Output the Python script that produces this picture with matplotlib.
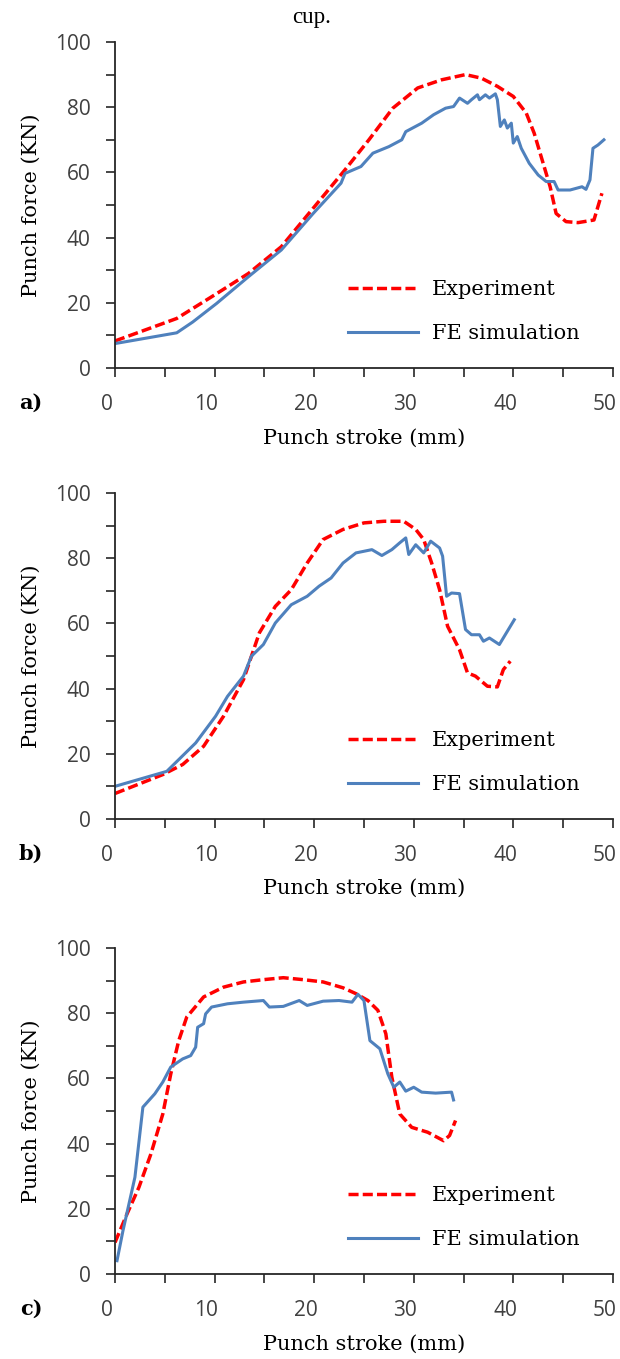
import matplotlib
matplotlib.use("Agg")
import matplotlib.pyplot as plt
from matplotlib.ticker import MultipleLocator
from matplotlib.transforms import ScaledTranslation

# ---- panel a) ----
a_exp_x = [0, 6.2, 10.2, 13.4, 16.7, 19.9, 23.1, 25.5, 27.9, 30.4, 32.8, 35.2, 36.8, 38.4,
           40.0, 41.3, 42.1, 42.9, 43.7, 44.3, 45.3, 46.5, 48.1, 48.5, 48.9]
a_exp_y = [8.3, 15.2, 22.8, 29.0, 37.2, 49.0, 60.8, 70.0, 79.7, 85.9, 88.4, 90.0, 88.9, 86.4,
           83.3, 78.2, 72.0, 63.8, 55.6, 47.4, 44.9, 44.6, 45.4, 49.5, 53.6]
a_fe_x = [0, 6.2, 7.8, 10.2, 13.4, 16.7, 19.9, 22.7, 23.1, 24.7, 25.9, 27.5, 28.8, 29.2, 30.8,
          32.0, 33.2, 34.0, 34.6, 35.4, 35.8, 36.4, 36.6, 37.2, 37.6, 38.2, 38.4, 38.7, 39.1,
          39.4, 39.8, 40.0, 40.4, 40.8, 41.6, 42.5, 43.3, 44.1, 44.5, 45.7, 46.9, 47.3, 47.7,
          48.0, 48.5, 49.1]
a_fe_y = [7.5, 10.8, 14.1, 19.8, 28.0, 36.2, 47.4, 56.7, 59.7, 61.8, 65.9, 67.9, 70.0, 72.5, 75.1,
          77.7, 79.7, 80.2, 82.8, 81.2, 82.3, 83.8, 82.3, 83.8, 82.8, 84.1, 82.3, 74.1, 76.1,
          73.6, 75.1, 69.0, 71.0, 67.4, 62.8, 59.2, 57.2, 57.2, 54.6, 54.6, 55.6, 54.8, 57.7,
          67.4, 68.4, 70.0]

# ---- panel b) ----
b_exp_x = [0, 4.8, 6.8, 8.9, 10.9, 12.9, 14.5, 16.1, 17.7, 19.3, 20.9, 22.9, 25.0, 27.0, 29.0,
           30.2, 31.0, 31.8, 32.6, 33.4, 34.6, 35.4, 36.2, 37.4, 38.4, 39.0, 39.7]
b_exp_y = [7.8, 13.6, 16.7, 22.3, 31.5, 42.7, 57.1, 65.2, 70.3, 78.5, 85.7, 88.8, 90.8, 91.3, 91.3,
           88.8, 85.7, 78.5, 70.3, 59.1, 51.9, 44.8, 43.8, 40.7, 40.5, 45.8, 48.4]
b_fe_x = [0, 5.2, 6.4, 8.1, 10.1, 11.3, 12.9, 13.7, 14.9, 16.1, 17.7, 19.3, 20.5, 21.7, 22.9,
          24.2, 25.8, 26.8, 27.8, 28.6, 29.2, 29.5, 30.2, 31.0, 31.7, 32.6, 32.9, 33.3, 33.8,
          34.6, 35.2, 35.8, 36.6, 37.0, 37.6, 38.6, 40.1]
b_fe_y = [10.0, 14.6, 18.2, 23.3, 31.5, 37.6, 43.8, 49.9, 53.5, 60.1, 65.7, 68.3, 71.4, 73.9, 78.5,
          81.6, 82.6, 80.8, 82.6, 84.7, 86.2, 81.1, 84.1, 81.6, 85.2, 83.1, 80.6, 68.3, 69.3,
          69.1, 58.1, 56.5, 56.5, 54.5, 55.5, 53.5, 61.1]

# ---- panel c) ----
c_exp_x = [0, 1.2, 2.4, 3.6, 4.8, 5.6, 6.4, 7.2, 8.9, 10.9, 12.9, 14.9, 16.9, 18.9, 20.9, 22.9,
           24.2, 25.4, 26.4, 27.2, 27.8, 28.6, 29.8, 31.4, 33.0, 33.6, 34.2]
c_exp_y = [9.7, 18.4, 26.6, 36.8, 49.1, 61.4, 71.6, 78.8, 85.0, 88.0, 89.6, 90.3, 90.9, 90.3, 89.6,
           87.8, 86.0, 83.9, 80.9, 73.7, 60.4, 49.1, 45.0, 43.5, 40.9, 42.5, 47.1]
c_fe_x = [0.2, 0.8, 2.0, 2.8, 4.0, 4.8, 5.6, 6.8, 7.6, 8.1, 8.3, 8.9, 9.1, 9.7, 11.3, 12.9, 14.9,
          15.5, 16.9, 18.5, 19.3, 20.9, 22.5, 23.8, 24.4, 25.0, 25.6, 26.6, 27.4, 28.0, 28.6,
          29.2, 30.0, 30.8, 32.2, 33.8, 34.0]
c_fe_y = [4.1, 13.3, 29.7, 51.2, 55.3, 58.9, 63.5, 66.0, 67.0, 69.6, 75.7, 76.8, 79.8, 81.9, 82.9,
          83.4, 83.9, 81.9, 82.1, 83.9, 82.4, 83.7, 83.9, 83.4, 85.8, 83.9, 71.6, 69.1, 61.4,
          57.3, 58.9, 56.1, 57.3, 55.8, 55.5, 55.8, 53.4]

panels = [("a)", a_exp_x, a_exp_y, a_fe_x, a_fe_y, 0.7292),
          ("b)", b_exp_x, b_exp_y, b_fe_x, b_fe_y, 0.3974),
          ("c)", c_exp_x, c_exp_y, c_fe_x, c_fe_y, 0.0625)]

serif = "DejaVu Serif"
tick_font = "Open Sans"
axis_col = "#262626"

fig = plt.figure(figsize=(6.2, 13.59), dpi=100)
fig.text(0.503, 1 - 18 / 1359, "cup.", family="Liberation Serif", fontsize=16.5,
         ha="center", va="center")

# Excel put the x tick labels a little left of their ticks
shift = ScaledTranslation(-6 / 72, 0, fig.dpi_scale_trans)

for tag, ex, ey, fx, fy, bottom in panels:
    ax = fig.add_axes([0.1855, bottom, 0.803, 0.2399])
    ax.plot(ex, ey, color="#FF0000", lw=2.5, dashes=(2.9, 1.2), label="Experiment")
    ax.plot(fx, fy, color="#4F81BD", lw=2.2, label="FE simulation")
    ax.set_xlim(0, 50)
    ax.set_ylim(0, 100)
    ax.xaxis.set_major_locator(MultipleLocator(10))
    ax.xaxis.set_minor_locator(MultipleLocator(5))
    ax.yaxis.set_major_locator(MultipleLocator(20))
    ax.yaxis.set_minor_locator(MultipleLocator(10))
    for s in ("top", "right"):
        ax.spines[s].set_visible(False)
    for s in ("left", "bottom"):
        ax.spines[s].set_color(axis_col)
        ax.spines[s].set_linewidth(1.3)
    ax.tick_params(which="both", direction="out", length=6.5, width=1.2, color=axis_col)
    ax.tick_params(axis="x", which="major", pad=12.5)
    ax.tick_params(axis="y", which="major", pad=11)
    for lab in ax.get_xticklabels() + ax.get_yticklabels():
        lab.set_family(tick_font)
        lab.set_fontsize(15)
        lab.set_color("#404040")
    for lab in ax.get_xticklabels():
        lab.set_transform(lab.get_transform() + shift)
    ax.set_xlabel("Punch stroke (mm)", family=serif, fontsize=15)
    ax.set_ylabel("Punch force (KN)", family=serif, fontsize=15)
    ax.xaxis.set_label_coords(0.5, -0.185)
    ax.yaxis.set_label_coords(-0.15, 0.5)
    ax.legend(loc="upper left", bbox_to_anchor=(0.468, 0.27), frameon=False,
              prop={"family": serif, "size": 15}, handlelength=3.37, handletextpad=0.65,
              labelspacing=1.2, borderpad=0, borderaxespad=0)
    fig.text(31 / 620, bottom - 35 / 1359, tag,
             family=serif, fontsize=15, fontweight="bold", ha="center", va="center")

fig.savefig("out.png", dpi=100)
